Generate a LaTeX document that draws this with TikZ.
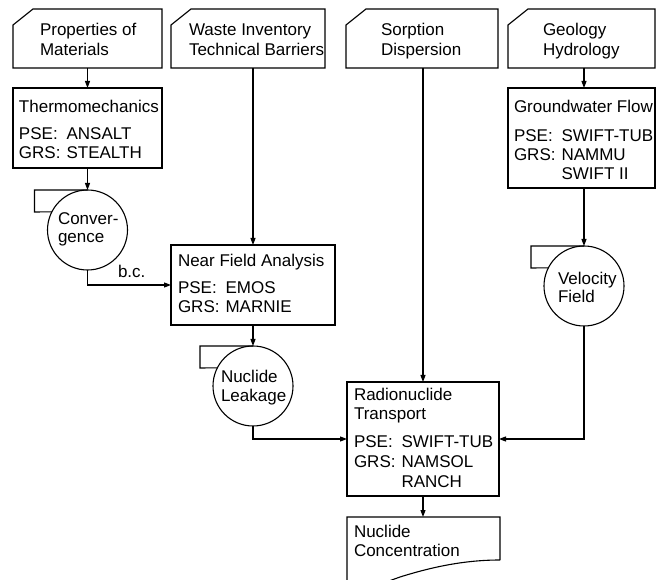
\documentclass[tikz,border=0pt]{standalone}
\usepackage{fontspec}
\setmainfont{Liberation Sans}
\usetikzlibrary{arrows.meta,calc}
\newcommand\mytwo[2]{\begin{tabular}[t]{@{}l@{}}#1\\#2\end{tabular}}
\newcommand\myprog[1]{\begin{tabular}[t]{@{}l@{\hspace{6pt}}l@{}}#1\end{tabular}}
\newcommand\myhead[1]{\multicolumn{2}{@{}l@{}}{#1}}
\begin{document}
\begin{tikzpicture}[x=1pt,y=-1pt,
  lw/.style={line width=1.1pt},
  cardnode/.style={rectangle, inner sep=0pt, outer sep=0pt, minimum height=59pt},
  box/.style={draw, lw, rectangle, inner sep=0pt, outer sep=0pt},
  tape/.style={draw, lw, circle, inner sep=0pt, outer sep=0pt, minimum size=80pt},
  txt/.style={inner sep=0pt, outer sep=0pt, anchor=base west, font=\fontsize{17}{19}\selectfont},
  arr/.style={lw, -{Triangle[length=7pt,width=5pt]}}]

\useasboundingbox (0,0) rectangle (657,580);
\clip (0,0) rectangle (657,580);

% input cards
\node[cardnode, minimum width=149pt] (c1) at (87.5,38.5) {};
\node[cardnode, minimum width=154pt] (c2) at (248,38.5) {};
\node[cardnode, minimum width=152pt] (c3) at (422,38.5) {};
\node[cardnode, minimum width=147pt] (c4) at (581.5,38.5) {};
\foreach \c in {c1,c2,c3,c4}
  \draw[lw, line join=miter] ($(\c.north west)+(0,16)$) -- ($(\c.north west)+(20,0)$)
    -- (\c.north east) -- (\c.south east) -- (\c.south west) -- cycle;

\node[txt, font=\fontsize{17}{20}\selectfont] (c1t) at (40,36) {\mytwo{Properties of}{Materials}};
\node[txt, font=\fontsize{17}{20}\selectfont] (c2t) at (189,36) {\mytwo{Waste Inventory}{Technical Barriers}};
\node[txt, font=\fontsize{17}{20}\selectfont] (c3t) at (381,36) {\mytwo{Sorption}{Dispersion}};
\node[txt, font=\fontsize{17}{20}\selectfont] (c4t) at (543,36) {\mytwo{Geology}{Hydrology}};

% program boxes
\node[box, minimum width=149pt, minimum height=80pt] (thermo) at (87.5,128) {};
\node[box, minimum width=164pt, minimum height=80pt] (near) at (253,285) {};
\node[box, minimum width=152pt, minimum height=114pt] (rad) at (423,439) {};
\node[box, minimum width=147pt, minimum height=100pt] (gw) at (581.5,138) {};

\node[txt] (thermot) at (19,113) {\myprog{\myhead{Thermomechanics}\\[8pt] PSE: & ANSALT\\ GRS: & STEALTH}};
\node[txt] (neart) at (178,267) {\myprog{\myhead{Near Field Analysis}\\[8pt] PSE: & EMOS\\ GRS: & MARNIE}};
\node[txt] (radt) at (354,401) {\myprog{\myhead{Radionuclide}\\ \myhead{Transport}\\[9pt] PSE: & SWIFT-TUB\\[1pt] GRS: & NAMSOL\\[1pt] & RANCH}};
\node[txt] (gwt) at (514,113) {\myprog{\myhead{Groundwater Flow}\\[10pt] PSE: & SWIFT-TUB\\ GRS: & NAMMU\\ & SWIFT II}};

% tape symbols
\node[tape] (conv) at (87.5,230) {};
\node[tape] (leak) at (253,386) {};
\node[tape] (vel) at (584,286) {};
\foreach \t in {conv,leak,vel}
  \draw[lw, line join=miter] (\t.north) -- ++(-53,0) -- ++(0,22) -- (\t.153);

\node[txt, font=\fontsize{17}{18}\selectfont] (convt) at (58,225) {\mytwo{Conver-}{gence}};
\node[txt] (leakt) at (221,383) {\mytwo{Nuclide}{Leakage}};
\node[txt, font=\fontsize{17}{18}\selectfont] (velt) at (558,285) {\mytwo{Velocity}{Field}};

% document
\node[rectangle, inner sep=0pt, outer sep=0pt, minimum width=153pt, minimum height=43pt] (doc) at (423.5,538.5) {};
\draw[lw, line join=miter] (doc.south east) -- (doc.north east) -- (doc.north west) -- ($(doc.south west)+(0,34)$)
  .. controls ($(doc.south west)+(13,32)$) and ($(doc.south west)+(28,26)$) .. ($(doc.south west)+(53,17)$)
  .. controls ($(doc.south west)+(88,6)$) and ($(doc.south west)+(120,0)$) .. (doc.south east);
\node[txt] (doct) at (354,537) {\mytwo{Nuclide}{Concentration}};

% connectors
\draw[arr] (c1) -- (thermo);
\draw[arr] (thermo) -- (conv);
\draw[arr] (conv.south) |- (near.west);
\node[txt] (bc) at (118,278) {b.c.};
\draw[arr] (c2.south -| near.north) -- (near.north);
\draw[arr] (near) -- (leak);
\draw[arr] (leak.south) |- (rad.west);
\draw[arr] (c3.south -| rad.north) -- (rad.north);
\draw[arr] (c4.south -| vel.north) -- (gw.north -| vel.north);
\draw[arr] (gw.south -| vel.north) -- (vel.north);
\draw[arr] (vel.south) |- (rad.east);
\draw[arr] (rad.south) -- (rad.south |- doc.north);
\end{tikzpicture}
\end{document}
